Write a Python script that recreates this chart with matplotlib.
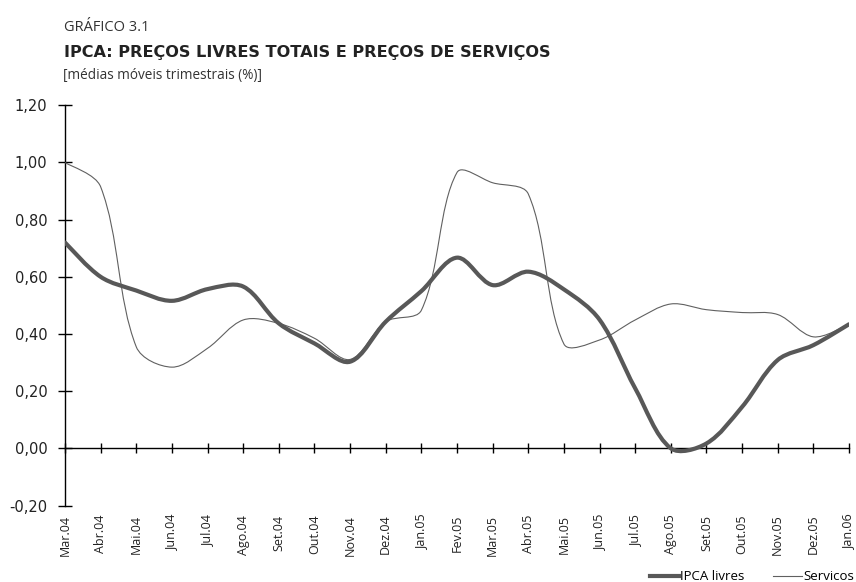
import matplotlib
matplotlib.use("Agg")
import numpy as np
import matplotlib.pyplot as plt
from matplotlib import font_manager
from matplotlib.path import Path
from matplotlib.patches import PathPatch
from matplotlib.lines import Line2D

# ---------------- data ----------------
months = ["Mar.04", "Abr.04", "Mai.04", "Jun.04", "Jul.04", "Ago.04", "Set.04",
          "Out.04", "Nov.04", "Dez.04", "Jan.05", "Fev.05", "Mar.05", "Abr.05",
          "Mai.05", "Jun.05", "Jul.05", "Ago.05", "Set.05", "Out.05", "Nov.05",
          "Dez.05", "Jan.06"]
ipca_livres = [0.72, 0.60, 0.552, 0.516, 0.557, 0.566, 0.437, 0.367, 0.303, 0.443,
               0.55, 0.667, 0.571, 0.618, 0.556, 0.45, 0.21, 0.0, 0.017, 0.145,
               0.309, 0.361, 0.434]
servicos = [1.00, 0.915, 0.355, 0.284, 0.35, 0.449, 0.437, 0.385, 0.311, 0.443,
            0.483, 0.965, 0.929, 0.89, 0.365, 0.379, 0.449, 0.505, 0.485, 0.475,
            0.468, 0.39, 0.434]
yticks = [-0.20, 0.0, 0.20, 0.40, 0.60, 0.80, 1.00, 1.20]

# ---------------- fonts ----------------
available = {f.name for f in font_manager.fontManager.ttflist}
def pick(cands):
    for c in cands:
        if c in available:
            return c
    return "DejaVu Sans"
narrow = pick(["Liberation Sans Narrow", "DejaVu Sans Condensed", "Open Sans", "Roboto"])
plt.rcParams["font.family"] = ["DejaVu Sans"]

W, H = 856, 582
fig = plt.figure(figsize=(W / 100, H / 100), dpi=100)
ax = fig.add_axes([65 / W, 1 - 505.5 / H, (849 - 65) / W, (505.5 - 105.3) / H])
ax.set_xlim(0, len(months) - 1)
ax.set_ylim(-0.20, 1.20)

def smooth_path(xs, ys):
    # Excel-style smoothed line: cubic Bezier segments through the data points,
    # tangent split in proportion to neighbouring segment lengths on screen
    P = ax.transData.transform(np.column_stack([xs, ys]))
    n = len(P)
    fwd, bwd = [], []
    for i in range(n):
        if i == 0:
            T = P[1] - P[0]
            fwd.append(P[0] + T / 6); bwd.append(P[0])
            continue
        if i == n - 1:
            T = P[-1] - P[-2]
            fwd.append(P[-1]); bwd.append(P[-1] - T / 6)
            continue
        T = P[i + 1] - P[i - 1]
        dp = np.hypot(*(P[i] - P[i - 1]))
        dn = np.hypot(*(P[i + 1] - P[i]))
        fwd.append(P[i] + T * dn / (dp + dn) / 3)
        bwd.append(P[i] - T * dp / (dp + dn) / 3)
    verts = [P[0]]
    codes = [Path.MOVETO]
    for i in range(n - 1):
        verts += [fwd[i], bwd[i + 1], P[i + 1]]
        codes += [Path.CURVE4] * 3
    verts = ax.transData.inverted().transform(np.array(verts))
    return Path(verts, codes)

x = list(range(len(months)))
col_thick = "#585858"
col_thin = "#606060"
ax.add_patch(PathPatch(smooth_path(x, servicos), facecolor="none",
                       edgecolor=col_thin, lw=0.8, zorder=3))
ax.add_patch(PathPatch(smooth_path(x, ipca_livres), facecolor="none",
                       edgecolor=col_thick, lw=3.0, capstyle="round",
                       joinstyle="round", zorder=4))

for s in ["top", "right"]:
    ax.spines[s].set_visible(False)
ax.spines["bottom"].set_position(("data", 0))
ax.spines["left"].set_linewidth(1.0)
ax.spines["bottom"].set_linewidth(1.0)

ax.set_yticks(yticks)
ax.set_yticklabels([("%.2f" % v).replace(".", ",") for v in yticks],
                   fontsize=10.5, color="#222222")
ax.tick_params(axis="y", direction="inout", length=9.5, width=1.0, pad=8)

ax.set_xticks(x)
ax.set_xticklabels(months, rotation=90, fontsize=9, family=narrow, color="#222222")
ax.tick_params(axis="x", direction="inout", length=6.5, width=1.0, pad=44.5)

# titles
fig.text(64 / W, 1 - 31 / H, "GRÁFICO 3.1", family=narrow, fontsize=10.5,
         color="#333333", ha="left", va="baseline")
fig.text(64 / W, 1 - 57 / H, "IPCA: PREÇOS LIVRES TOTAIS E PREÇOS DE SERVIÇOS",
         fontsize=11.6, fontweight="bold", color="#222222", ha="left", va="baseline")
fig.text(63 / W, 1 - 79 / H, "[médias móveis trimestrais (%)]", family=narrow,
         fontsize=9.8, color="#333333", ha="left", va="baseline")

handles = [Line2D([], [], color=col_thick, lw=3.0),
           Line2D([], [], color=col_thin, lw=0.8)]
leg = fig.legend(handles, ["IPCA livres", "Servicos"], loc="center right",
                 bbox_to_anchor=(1.0, 1 - 577 / H), ncol=2, frameon=False,
                 handlelength=2.2, handletextpad=0.1, columnspacing=2.2,
                 prop={"family": narrow, "size": 9.5}, borderaxespad=0.0,
                 borderpad=0.1)

fig.savefig("out.png", dpi=100)
